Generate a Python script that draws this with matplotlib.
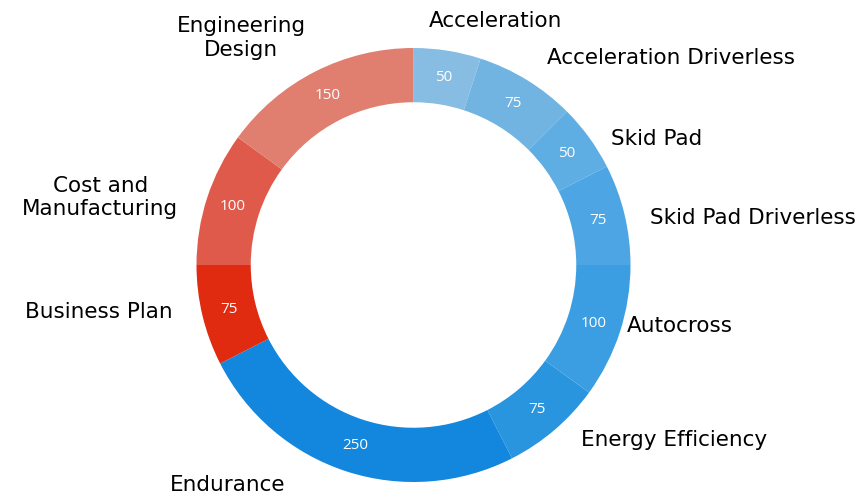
import matplotlib
matplotlib.use("Agg")
import matplotlib.pyplot as plt
import numpy as np

# event points, clockwise from 12 o'clock
events = ["Acceleration", "Acceleration Driverless", "Skid Pad", "Skid Pad Driverless",
          "Autocross", "Energy Efficiency", "Endurance", "Business Plan",
          "Cost and\nManufacturing", "Engineering\nDesign"]
points = [50, 75, 50, 75, 100, 75, 250, 75, 100, 150]
colors = ["#88BDE3", "#71B4E2", "#5EADE3", "#4DA6E3", "#3B9EE2",
          "#2995DF", "#1287DD", "#E02B10", "#E05A4B", "#E07F70"]

# small nudges for outer labels (axis units), layout only
nudge = [(-0.11, 0.0), (0.02, -0.02), (-0.01, -0.09), (-0.02, -0.05), (-0.1, 0.07),
         (0.03, 0.06), (-0.24, 0.07), (0, 0.05), (0, -0.04), (0.02, 0.03)]

W, H = 860, 497
cx, cy, R = 413.5, 265, 217

fig = plt.figure(figsize=(W / 100, H / 100), dpi=100)
ax = fig.add_axes([0, 0, 1, 1])

wedges, _ = ax.pie(points, colors=colors, startangle=90, counterclock=False,
                   radius=1.0, wedgeprops=dict(width=0.25, linewidth=0))
ax.set_xlim(-cx / R, (W - cx) / R)
ax.set_ylim(-(H - cy) / R, cy / R)
ax.set_aspect("equal")
ax.axis("off")

total = sum(points)
cum = np.cumsum([0] + points)
for i, (name, val) in enumerate(zip(events, points)):
    mid = (cum[i] + val / 2) / total * 2 * np.pi
    sx, sy = np.sin(mid), np.cos(mid)
    ax.text(0.875 * sx, 0.875 * sy, str(val), color="white", fontsize=11,
            family="Open Sans", ha="center", va="center")
    ha = "left" if sx >= 0 else "right"
    ax.text(1.14 * sx + nudge[i][0], 1.14 * sy + nudge[i][1], name,
            fontsize=15.5, ha=ha, va="center", multialignment="center",
            linespacing=1.2, color="#000000")

fig.savefig("out.png", dpi=100)
